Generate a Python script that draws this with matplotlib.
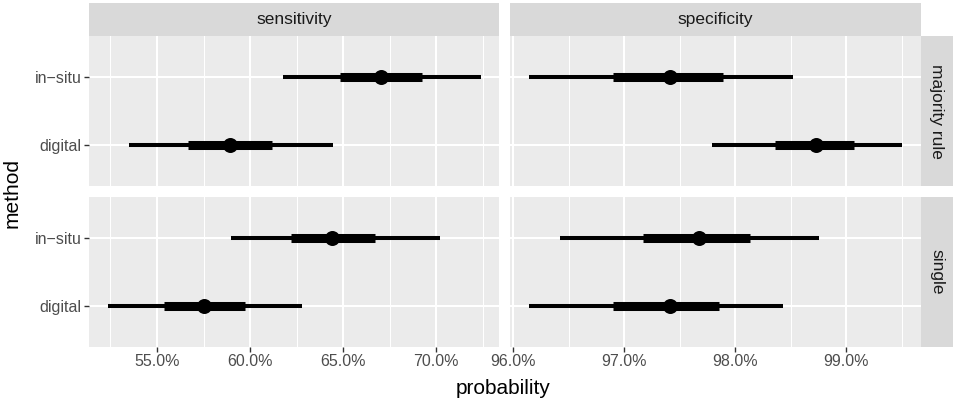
import matplotlib
matplotlib.use("Agg")
import matplotlib.pyplot as plt
import numpy as np

plt.rcParams['font.family'] = ['Liberation Sans', 'DejaVu Sans']

methods = ['digital', 'in\u2212situ']      # bottom to top
measures = ['sensitivity', 'specificity']  # columns
rules = ['majority rule', 'single']        # rows

# values in percent, order follows `methods`
sens_major_mid = [58.90, 67.02]
sens_major_in_lo = [56.66, 64.83]
sens_major_in_hi = [61.15, 69.22]
sens_major_out_lo = [53.51, 61.74]
sens_major_out_hi = [64.46, 72.38]

sens_single_mid = [57.55, 64.42]
sens_single_in_lo = [55.36, 62.19]
sens_single_in_hi = [59.70, 66.71]
sens_single_out_lo = [52.35, 59.00]
sens_single_out_hi = [62.81, 70.20]

spec_major_mid = [98.73, 97.41]
spec_major_in_lo = [98.36, 96.90]
spec_major_in_hi = [99.07, 97.89]
spec_major_out_lo = [97.79, 96.14]
spec_major_out_hi = [99.50, 98.52]

spec_single_mid = [97.41, 97.67]
spec_single_in_lo = [96.90, 97.17]
spec_single_in_hi = [97.85, 98.13]
spec_single_out_lo = [96.14, 96.42]
spec_single_out_hi = [98.43, 98.75]

sens_major_ticks = [55, 60, 65, 70]
sens_minor_ticks = [52.5, 57.5, 62.5, 67.5, 72.5]
spec_major_ticks = [96, 97, 98, 99]
spec_minor_ticks = [96.5, 97.5, 98.5, 99.5]

panels = {
    ('majority rule', 'sensitivity'): (sens_major_mid, sens_major_in_lo, sens_major_in_hi, sens_major_out_lo, sens_major_out_hi),
    ('single', 'sensitivity'): (sens_single_mid, sens_single_in_lo, sens_single_in_hi, sens_single_out_lo, sens_single_out_hi),
    ('majority rule', 'specificity'): (spec_major_mid, spec_major_in_lo, spec_major_in_hi, spec_major_out_lo, spec_major_out_hi),
    ('single', 'specificity'): (spec_single_mid, spec_single_in_lo, spec_single_in_hi, spec_single_out_lo, spec_single_out_hi),
}
ticks = {'sensitivity': (sens_major_ticks, sens_minor_ticks),
         'specificity': (spec_major_ticks, spec_minor_ticks)}

W, H = 957, 401
fig = plt.figure(figsize=(W / 100, H / 100), dpi=100)
fig.patch.set_facecolor('white')

def frac(x0, y0, x1, y1):
    # pixel box -> figure fraction rect
    return [x0 / W, 1 - y1 / H, (x1 - x0) / W, (y1 - y0) / H]

col_x = [(89, 499.3), (510, 920.7)]
row_y = [(36, 186), (196.7, 346.7)]

# x limits per column, ggplot style 5% expansion
xlims = {}
for m in measures:
    lo = min(min(panels[(r, m)][3]) for r in rules)
    hi = max(max(panels[(r, m)][4]) for r in rules)
    pad = 0.05 * (hi - lo)
    xlims[m] = (lo - pad, hi + pad)

ypos = np.arange(1, len(methods) + 1)

for ri, r in enumerate(rules):
    for ci, m in enumerate(measures):
        x0, x1 = col_x[ci]
        y0, y1 = row_y[ri]
        ax = fig.add_axes(frac(x0, y0, x1, y1))
        ax.set_facecolor('#EBEBEB')
        for s in ax.spines.values():
            s.set_visible(False)
        major, minor = ticks[m]
        ax.set_xlim(*xlims[m])
        ax.set_ylim(0.4, len(methods) + 0.6)
        ax.set_xticks(major)
        ax.set_xticks(minor, minor=True)
        ax.set_yticks(ypos)
        ax.grid(which='major', color='white', linewidth=1.5)
        ax.grid(which='minor', axis='x', color='white', linewidth=0.75)
        ax.set_axisbelow(True)
        ax.tick_params(which='major', length=3.5, width=1.0, color='#333333',
                       labelsize=11.5, labelcolor='#4D4D4D', pad=2)
        ax.tick_params(which='minor', length=0)

        mid, ilo, ihi, olo, ohi = panels[(r, m)]
        ax.hlines(ypos, olo, ohi, color='black', linewidth=2.9, capstyle='butt', zorder=3)
        ax.hlines(ypos, ilo, ihi, color='black', linewidth=6.5, capstyle='butt', zorder=4)
        ax.plot(mid, ypos, 'o', color='black', markersize=10.8, markeredgewidth=0, zorder=5)

        if ri == len(rules) - 1:
            ax.set_xticklabels(['%.1f%%' % t for t in major])
        else:
            ax.set_xticklabels([])
            ax.tick_params(axis='x', length=0)
        if ci == 0:
            ax.set_yticklabels(methods)
        else:
            ax.set_yticklabels([])
            ax.tick_params(axis='y', length=0)

        # column strips
        if ri == 0:
            sax = fig.add_axes(frac(x0, 3.3, x1, 36))
            sax.set_facecolor('#D9D9D9')
            sax.set_xticks([]); sax.set_yticks([])
            for s in sax.spines.values():
                s.set_visible(False)
            sax.text(0.5, 0.5, m, ha='center', va='center', fontsize=12.5,
                     color='#1A1A1A', transform=sax.transAxes)
        # row strips
        if ci == len(measures) - 1:
            sax = fig.add_axes(frac(920.7, y0, 953, y1))
            sax.set_facecolor('#D9D9D9')
            sax.set_xticks([]); sax.set_yticks([])
            for s in sax.spines.values():
                s.set_visible(False)
            sax.text(0.5, 0.5, r, ha='center', va='center', fontsize=12.5,
                     color='#1A1A1A', rotation=-90, transform=sax.transAxes)

fig.text(503 / W, 1 - 388 / H, 'probability', ha='center', va='center', fontsize=15)
fig.text(12 / W, 1 - 193 / H, 'method', ha='center', va='center', fontsize=15, rotation=90)

fig.savefig('out.png', dpi=100)
